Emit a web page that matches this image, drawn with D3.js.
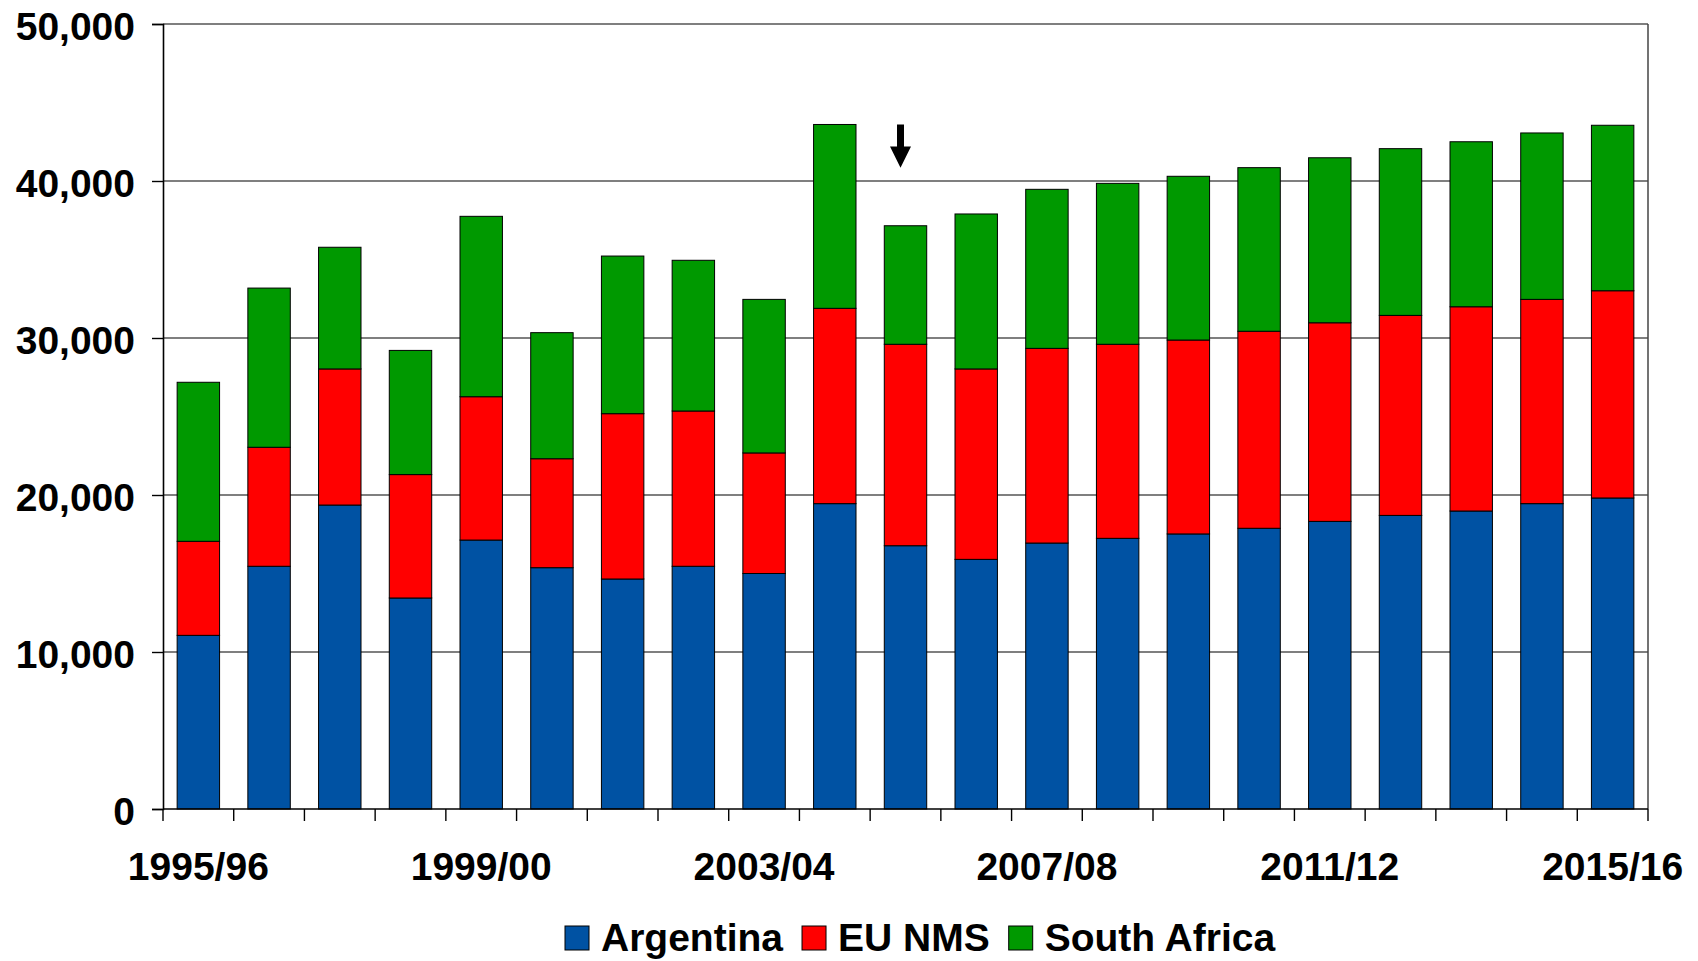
<!DOCTYPE html>
<html>
<head>
<meta charset="utf-8">
<script src="https://cdn.jsdelivr.net/npm/d3@7"></script>
<style>
  html, body { margin: 0; padding: 0; background: #ffffff; }
  svg { display: block; }
  text { font-family: "Liberation Sans", Arial, sans-serif; font-weight: bold; fill: #000; }
</style>
</head>
<body>
<svg id="chart" width="1698" height="961"></svg>
<script>
// ---- Data ----
const categories = ["1995/96","1996/97","1997/98","1998/99","1999/00","2000/01","2001/02","2002/03","2003/04","2004/05","2005/06","2006/07","2007/08","2008/09","2009/10","2010/11","2011/12","2012/13","2013/14","2014/15","2015/16"];
const argentina   = [11060,15460,19360,13440,17130,15370,14650,15460,15000,19450,16770,15900,16940,17240,17520,17880,18320,18700,18980,19450,19810];
const euNms       = [ 5990, 7580, 8670, 7860, 9130, 6940,10530, 9890, 7680,12440,12830,12130,12400,12360,12350,12550,12650,12740,13010,13010,13200];
const southAfrica = [10130,10140, 7750, 7910,11490, 8030,10040, 9600, 9780,11710, 7550, 9870,10130,10250,10430,10420,10510,10620,10510,10600,10540];
const seriesNames = ["Argentina","EU NMS","South Africa"];
const seriesColors = ["#0052A3","#FF0000","#009900"];
const yTicks = [0,10000,20000,30000,40000,50000];
const xLabelEvery = 4;
const arrowCategory = "2005/06";

(function () {
// ---- Layout ----
const svg = d3.select("#chart");
const pLeft = 163, pRight = 1648, pTop = 24, pBottom = 809;
const fontSize = "39px";

const x = d3.scaleBand().domain(categories).range([pLeft, pRight]).paddingInner(0.4).paddingOuter(0.2);
const y = d3.scaleLinear().domain([0, 50000]).range([pBottom, pTop]);

const rows = categories.map((c, i) => ({cat: c, "Argentina": argentina[i], "EU NMS": euNms[i], "South Africa": southAfrica[i]}));
const stacked = d3.stack().keys(seriesNames)(rows);

// gridlines
svg.append("g").selectAll("line").data(yTicks.filter(d => d > 0)).join("line")
  .attr("x1", pLeft).attr("x2", pRight)
  .attr("y1", d => y(d)).attr("y2", d => y(d))
  .attr("stroke", "#555").attr("stroke-width", 1.4);

// right border
svg.append("line").attr("x1", pRight).attr("x2", pRight).attr("y1", pTop).attr("y2", pBottom)
  .attr("stroke", "#444").attr("stroke-width", 1.5);

// bars
svg.append("g").selectAll("g").data(stacked).join("g")
  .attr("fill", (d, i) => seriesColors[i])
  .selectAll("rect").data(d => d).join("rect")
  .attr("x", d => x(d.data.cat))
  .attr("width", x.bandwidth())
  .attr("y", d => y(d[1]))
  .attr("height", d => y(d[0]) - y(d[1]))
  .attr("stroke", "#000").attr("stroke-width", 1);

// y axis
const yAxis = d3.axisLeft(y).tickValues(yTicks).tickSize(11).tickPadding(17)
  .tickFormat(d3.format(","));
const gy = svg.append("g").attr("transform", `translate(${pLeft},0)`).call(yAxis);
gy.select(".domain").attr("stroke", "#000").attr("stroke-width", 1.6);
gy.selectAll(".tick line").attr("stroke", "#000").attr("stroke-width", 1.4);
gy.selectAll(".tick text")
  .attr("dy", "0.4em")
  .style("font-size", fontSize).style("font-family", '"Liberation Sans", Arial, sans-serif')
  .style("font-weight", "bold").attr("fill", "#000");

// x axis line + ticks at band boundaries
const step = x.step();
const x0 = x.range()[0];
const boundaries = d3.range(categories.length + 1).map(i => x0 + i * step);
svg.append("line").attr("x1", pLeft).attr("x2", pRight).attr("y1", pBottom).attr("y2", pBottom)
  .attr("stroke", "#000").attr("stroke-width", 1.6);
svg.append("g").selectAll("line").data(boundaries).join("line")
  .attr("x1", d => d).attr("x2", d => d).attr("y1", pBottom).attr("y2", pBottom + 12)
  .attr("stroke", "#000").attr("stroke-width", 1.4);

// x labels
svg.append("g").selectAll("text").data(categories.filter((c, i) => i % xLabelEvery === 0)).join("text")
  .attr("x", d => x(d) + x.bandwidth() / 2)
  .attr("y", 880)
  .attr("text-anchor", "middle")
  .style("font-size", fontSize)
  .text(d => d);

// arrow annotation
const ax = x(arrowCategory) + x.bandwidth() / 2 - 5;
const aTop = y(43600), aMid = y(42200), aBot = y(40850);
svg.append("path")
  .attr("d", `M${ax-3.5},${aTop} L${ax+3.5},${aTop} L${ax+3.5},${aMid} L${ax+10.5},${aMid} L${ax},${aBot} L${ax-10.5},${aMid} L${ax-3.5},${aMid} Z`)
  .attr("fill", "#000");

// legend
const legend = svg.append("g");
let lx = 565;
seriesNames.forEach((name, i) => {
  legend.append("rect").attr("x", lx).attr("y", 926).attr("width", 24).attr("height", 24)
    .attr("fill", seriesColors[i]).attr("stroke", "#000").attr("stroke-width", 1);
  const t = legend.append("text").attr("x", lx + 36).attr("y", 951).style("font-size", fontSize).text(name);
  const w = t.node().getComputedTextLength();
  lx = lx + 36 + w + 19;
});
})();
</script>
</body>
</html>
